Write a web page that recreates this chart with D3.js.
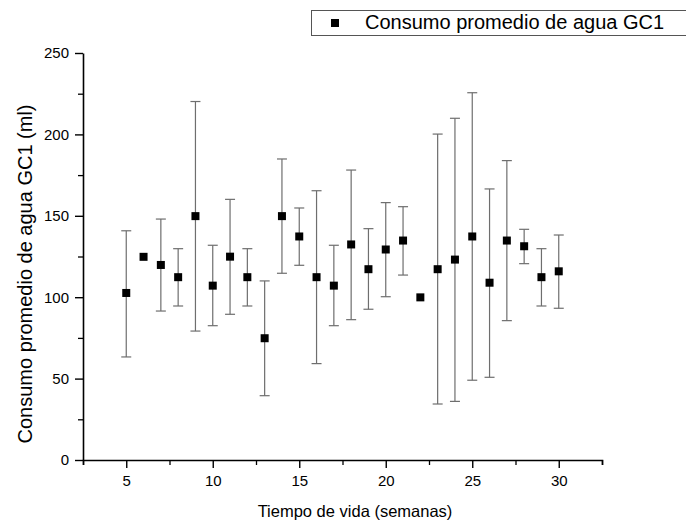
<!DOCTYPE html>
<html>
<head>
<meta charset="utf-8">
<script src="https://cdn.jsdelivr.net/npm/d3@7"></script>
<style>
  body { margin: 0; background: #fff; }
  svg { font-family: "Liberation Sans", Arial, sans-serif; }
</style>
</head>
<body>
<svg id="chart" width="686" height="523"></svg>
<script>
// weeks, mean water intake and error bar ends
let weeks = [5, 6, 7, 8, 9, 10, 11, 12, 13, 14, 15, 16, 17, 18, 19, 20, 21, 22, 23, 24, 25, 26, 27, 28, 29, 30];
let means = [102.6, 124.8, 119.8, 112.3, 149.8, 107.1, 124.9, 112.3, 74.8, 149.8, 137.3, 112.3, 107.1, 132.4, 117.2, 129.3, 134.8, 99.9, 117.2, 123.1, 137.3, 108.9, 134.8, 131.3, 112.3, 115.9];
let upper = [140.8, null, 148, 129.8, 220.2, 131.9, 160.1, 129.8, 110, 184.9, 154.8, 165.4, 131.9, 178.1, 142.1, 158.1, 155.6, null, 200.2, 209.9, 225.6, 166.5, 183.9, 141.7, 129.8, 138.2];
let lower = [63.3, null, 91.5, 94.6, 79.2, 82.5, 89.5, 94.6, 39.5, 114.7, 119.6, 59.2, 82.5, 86.2, 92.6, 100.3, 113.6, null, 34.4, 36, 49, 50.8, 85.6, 120.6, 94.6, 93.2];
let xTicks = [5, 10, 15, 20, 25, 30];
let yTicks = [0, 50, 100, 150, 200, 250];
let legendLabel = "Consumo promedio de agua GC1";

let svg = d3.select("#chart");
let margin = { left: 83, top: 53, right: 602, bottom: 460 };

let x = d3.scaleLinear().domain([2.5, 32.5]).range([margin.left, margin.right]);
let y = d3.scaleLinear().domain([0, 250]).range([margin.bottom, margin.top]);

let data = weeks.map((w, i) => ({ w: w, m: means[i], hi: upper[i], lo: lower[i] }));

// x axis with minor ticks
let xMinor = d3.range(2.5, 33, 2.5).filter(v => xTicks.indexOf(v) < 0);
svg.append("g")
  .attr("transform", "translate(0," + margin.bottom + ")")
  .call(d3.axisBottom(x).tickValues(xMinor).tickSize(5).tickFormat(""))
  .call(g => g.select(".domain").remove())
  .selectAll("line").attr("stroke", "#000").attr("stroke-width", 1.3);
let xAx = svg.append("g")
  .attr("transform", "translate(0," + margin.bottom + ")")
  .call(d3.axisBottom(x).tickValues(xTicks).tickSize(8).tickSizeOuter(5).tickPadding(7));
xAx.select(".domain").attr("stroke", "#000").attr("stroke-width", 1.6);
xAx.selectAll("line").attr("stroke-width", 1.4);
xAx.selectAll("text").attr("font-size", 15).attr("fill", "#000");

// y axis with minor ticks
let yMinor = d3.range(25, 250, 50);
svg.append("g")
  .attr("transform", "translate(" + margin.left + ",0)")
  .call(d3.axisLeft(y).tickValues(yMinor).tickSize(5).tickFormat(""))
  .call(g => g.select(".domain").remove())
  .selectAll("line").attr("stroke", "#000").attr("stroke-width", 1.3);
let yAx = svg.append("g")
  .attr("transform", "translate(" + margin.left + ",0)")
  .call(d3.axisLeft(y).tickValues(yTicks).tickSize(8).tickSizeOuter(0).tickPadding(6));
yAx.select(".domain").attr("stroke", "#000").attr("stroke-width", 1.6);
yAx.selectAll("line").attr("stroke-width", 1.4);
yAx.selectAll("text").attr("font-size", 15).attr("fill", "#000");

// error bars
let eb = data.filter(d => d.hi != null);
let capW = 5;
let bars = svg.append("g").attr("stroke", "#6e6e6e").attr("stroke-width", 1.2);
bars.selectAll(".v").data(eb).enter().append("line")
  .attr("x1", d => x(d.w)).attr("x2", d => x(d.w))
  .attr("y1", d => y(d.hi)).attr("y2", d => y(d.lo));
bars.selectAll(".t").data(eb).enter().append("line")
  .attr("x1", d => x(d.w) - capW).attr("x2", d => x(d.w) + capW)
  .attr("y1", d => y(d.hi)).attr("y2", d => y(d.hi));
bars.selectAll(".b").data(eb).enter().append("line")
  .attr("x1", d => x(d.w) - capW).attr("x2", d => x(d.w) + capW)
  .attr("y1", d => y(d.lo)).attr("y2", d => y(d.lo));

// square markers
let s = 8;
svg.append("g").selectAll("rect").data(data).enter().append("rect")
  .attr("x", d => x(d.w) - s / 2)
  .attr("y", d => y(d.m) - s / 2)
  .attr("width", s).attr("height", s)
  .attr("fill", "#000");

// axis titles
svg.append("text")
  .attr("x", 355).attr("y", 517)
  .attr("text-anchor", "middle")
  .attr("font-size", 16.5)
  .text("Tiempo de vida (semanas)");
svg.append("text")
  .attr("transform", "translate(32," + 274 + ") rotate(-90)")
  .attr("text-anchor", "middle")
  .attr("font-size", 20)
  .text("Consumo promedio de agua GC1 (ml)");

// legend
let lg = svg.append("g");
lg.append("rect")
  .attr("x", 311.5).attr("y", 10.5).attr("width", 380).attr("height", 25)
  .attr("fill", "#fff").attr("stroke", "#555").attr("stroke-width", 1);
lg.append("rect").attr("x", 331).attr("y", 19).attr("width", 8).attr("height", 8).attr("fill", "#000");
lg.append("text")
  .attr("x", 365).attr("y", 29)
  .attr("font-size", 20)
  .text(legendLabel);
</script>
</body>
</html>
